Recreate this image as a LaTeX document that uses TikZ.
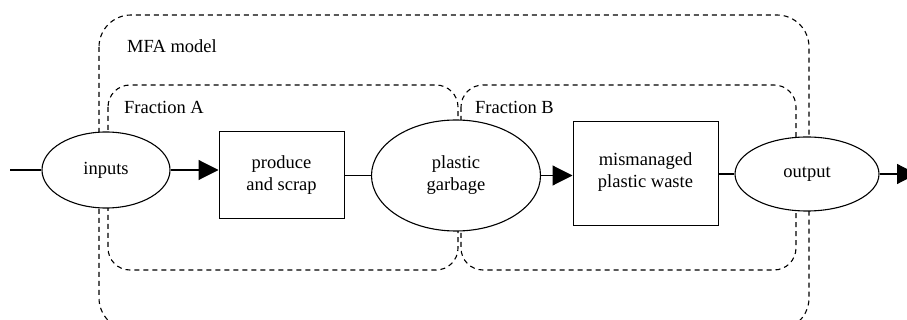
\documentclass[tikz,border=0pt]{standalone}
\usepackage{fontspec}
\setmainfont{Liberation Serif}
\usetikzlibrary{shapes.geometric,arrows.meta}
\begin{document}
\begin{tikzpicture}[x=1pt,y=-1pt,
  every node/.style={font=\fontsize{18.5}{22}\selectfont},
  proc/.style={draw,fill=white,line width=1pt,inner sep=0pt,align=center},
  oval/.style={ellipse,draw,fill=white,line width=1.1pt,inner sep=0pt,align=center},
  group/.style={draw,dash pattern=on 5pt off 4pt,line width=1.1pt},
  flow/.style={line width=1.1pt},
  aflow/.style={line width=1.1pt,-{Triangle[length=20pt,width=20pt]}},
  lbl/.style={anchor=west,inner sep=0pt}]
\clip (0,0) rectangle (907,320);
\fill[white] (0,0) rectangle (907,320);
% groups
\draw[group,rounded corners=32pt] (99,15) rectangle (809,330);
\draw[group,rounded corners=22pt] (108,85) rectangle (458,270);
\draw[group,rounded corners=22pt] (461,85) rectangle (796,270);
\node[lbl] (mfa) at (127,46) {MFA model};
\node[lbl] (fa) at (124,107) {Fraction A};
\node[lbl] (fb) at (475,107) {Fraction B};
% nodes
\node[oval,minimum width=128pt,minimum height=76pt] (in) at (106,170) {inputs};
\node[proc,minimum width=125pt,minimum height=87pt] (ps) at (281.5,175.5) {produce\\and scrap};
\node[oval,minimum width=169pt,minimum height=111pt] (pg) at (456,175.5) {plastic\\garbage};
\node[proc,minimum width=145pt,minimum height=104pt] (mw) at (645.5,174) {};
\node[align=center,inner sep=0pt] (mwt) at (645.5,172) {mismanaged\\plastic waste};
\node[oval,minimum width=144pt,minimum height=74pt] (out) at (807,174) {output};
\coordinate (src) at (10,170);
\coordinate (snk) at (917,174);
% connectors
\draw[flow] (src) -- (in);
\draw[aflow] (in) -- (in -| ps.west);
\draw[flow] (ps.east) -- (ps.east -| pg.west);
\draw[aflow] (pg.east) -- (pg.east -| mw.west);
\draw[flow] (mw.east) -- (mw.east -| out.west);
\draw[aflow] (out.east) -- (snk);
\end{tikzpicture}
\end{document}
